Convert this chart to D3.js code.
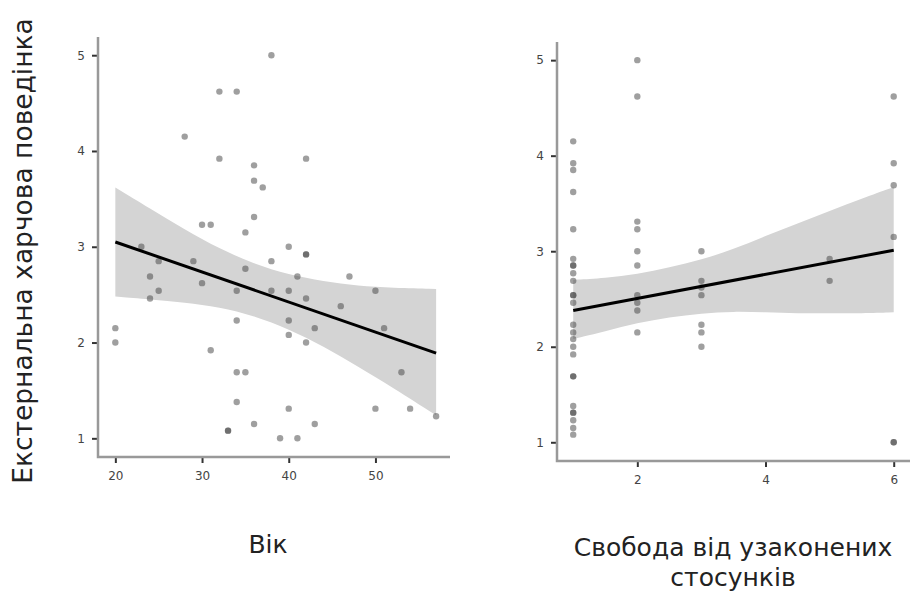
<!DOCTYPE html>
<html lang="uk">
<head>
<meta charset="UTF-8">
<title>Екстернальна харчова поведінка</title>
<style>
  body { margin: 0; background: #fff; }
  svg { display: block; font-family: "DejaVu Sans", sans-serif; }
  .tick text { fill: #444; font-size: 12px; }
  .axis-line { stroke: #999; stroke-width: 2.5; fill: none; }
  .tick line { stroke: #333; stroke-width: 2; }
  .band { fill: #d4d4d4; }
  .fit { fill: none; stroke: #000; stroke-width: 3; }
  .pt { fill: #404040; fill-opacity: 0.5; }
  .title { fill: #222; }
</style>
</head>
<body>
<svg width="912" height="592"></svg>
<script src="https://cdn.jsdelivr.net/npm/d3@7"></script>
<script>
// left panel: вік
const ageX = [38,32,34,28,32,42,36,36,37,30,31,36,35,23,40,25,29,38,42,42,24,41,47,35,30,25,34,38,40,50,24,42,46,20,20,34,40,43,51,40,42,31,34,35,53,34,40,50,54,57,36,43,33,33,39,41];
const ageY = [5.00,4.62,4.62,4.15,3.92,3.92,3.85,3.69,3.62,3.23,3.23,3.31,3.15,3.00,3.00,2.85,2.85,2.85,2.92,2.92,2.69,2.69,2.69,2.77,2.62,2.54,2.54,2.54,2.54,2.54,2.46,2.46,2.38,2.15,2.00,2.23,2.23,2.15,2.15,2.08,2.00,1.92,1.69,1.69,1.69,1.38,1.31,1.31,1.31,1.23,1.15,1.15,1.08,1.08,1.00,1.00];
const ageFitX = [20, 57];
const ageFitY = [3.05, 1.89];
const ageBandX = [20, 24, 28, 32, 36, 40, 44, 48, 52, 57];
const ageBandHi = [3.62, 3.40, 3.18, 2.98, 2.82, 2.71, 2.64, 2.59, 2.57, 2.56];
const ageBandLo = [2.48, 2.45, 2.42, 2.37, 2.28, 2.14, 1.96, 1.75, 1.53, 1.24];
const ageTicks = [20, 30, 40, 50];

// right panel: свобода від узаконених стосунків
const freeX = [1,1,1,1,1,1,1,1,1,1,1,1,1,1,1,1,1,1,1,1,1,1,1,1,1,1,
               2,2,2,2,2,2,2,2,2,2,
               3,3,3,3,3,3,3,
               5,5,
               6,6,6,6,6,6];
const freeY = [4.15,3.92,3.85,3.62,3.23,2.92,2.85,2.85,2.77,2.69,2.54,2.54,2.46,2.23,2.15,2.08,2.00,1.92,1.69,1.69,1.38,1.31,1.31,1.23,1.15,1.08,
               5.00,4.62,3.31,3.23,3.00,2.85,2.54,2.46,2.38,2.15,
               3.00,2.69,2.62,2.54,2.23,2.15,2.00,
               2.92,2.69,
               4.62,3.92,3.69,3.15,1.00,1.00];
const freeFitX = [1, 6];
const freeFitY = [2.38, 3.01];
const freeBandX = [1, 1.5, 2, 2.5, 3, 3.5, 4, 4.5, 5, 5.5, 6];
const freeBandHi = [2.70, 2.72, 2.76, 2.83, 2.91, 3.02, 3.16, 3.29, 3.42, 3.55, 3.67];
const freeBandLo = [2.08, 2.16, 2.25, 2.31, 2.35, 2.37, 2.36, 2.35, 2.35, 2.35, 2.36];
const freeTicks = [2, 4, 6];

const yTicks = [1, 2, 3, 4, 5];

const svg = d3.select('svg');

function panel(o) {
  const x = d3.scaleLinear().domain(o.xDom).range([o.left, o.right]);
  const y = d3.scaleLinear().domain(o.yDom).range([o.bottom, o.top]);
  const g = svg.append('g');

  const band = o.bandX.map((v, i) => ({ x: v, lo: o.bandLo[i], hi: o.bandHi[i] }));
  g.append('path').attr('class', 'band')
    .attr('d', d3.area().curve(d3.curveBasis)
      .x(d => x(d.x)).y0(d => y(d.lo)).y1(d => y(d.hi))(band));

  g.selectAll('circle').data(o.px.map((v, i) => [v, o.py[i]])).join('circle')
    .attr('class', 'pt').attr('r', 3.2)
    .attr('cx', d => x(d[0])).attr('cy', d => y(d[1]));

  g.append('path').attr('class', 'fit')
    .attr('d', d3.line().x(d => x(d[0])).y(d => y(d[1]))(o.fitX.map((v, i) => [v, o.fitY[i]])));

  const ya = g.append('g').attr('transform', `translate(${o.left},0)`)
    .call(d3.axisLeft(y).tickValues(yTicks).tickSize(6).tickPadding(7).tickFormat(d3.format('d')));
  const xa = g.append('g').attr('transform', `translate(0,${o.bottom})`)
    .call(d3.axisBottom(x).tickValues(o.xTicks).tickSize(6).tickPadding(8).tickFormat(d3.format('d')));
  [ya, xa].forEach(a => { a.select('.domain').remove(); a.attr('font-family', null).attr('font-size', null); });

  g.append('path').attr('class', 'axis-line')
    .attr('d', `M${o.left},${o.top}V${o.bottom}H${o.right}`);
  return { x, y };
}

panel({
  left: 98, right: 450, top: 37, bottom: 457,
  xDom: [18, 58.6], yDom: [0.805, 5.19],
  px: ageX, py: ageY, fitX: ageFitX, fitY: ageFitY,
  bandX: ageBandX, bandLo: ageBandLo, bandHi: ageBandHi, xTicks: ageTicks
});

panel({
  left: 557, right: 910, top: 42, bottom: 461,
  xDom: [0.747, 6.254], yDom: [0.804, 5.19],
  px: freeX, py: freeY, fitX: freeFitX, fitY: freeFitY,
  bandX: freeBandX, bandLo: freeBandLo, bandHi: freeBandHi, xTicks: freeTicks
});

svg.append('text').attr('class', 'title')
  .attr('transform', 'translate(32,251) rotate(-90)')
  .attr('text-anchor', 'middle').attr('font-size', 26.5)
  .text('Екстернальна харчова поведінка');

svg.append('text').attr('class', 'title')
  .attr('x', 268).attr('y', 553).attr('text-anchor', 'middle').attr('font-size', 25)
  .text('Вік');

svg.append('text').attr('class', 'title')
  .attr('x', 733).attr('y', 556).attr('text-anchor', 'middle').attr('font-size', 25)
  .text('Свобода від узаконених');
svg.append('text').attr('class', 'title')
  .attr('x', 733).attr('y', 586).attr('text-anchor', 'middle').attr('font-size', 25)
  .text('стосунків');
</script>
</body>
</html>
